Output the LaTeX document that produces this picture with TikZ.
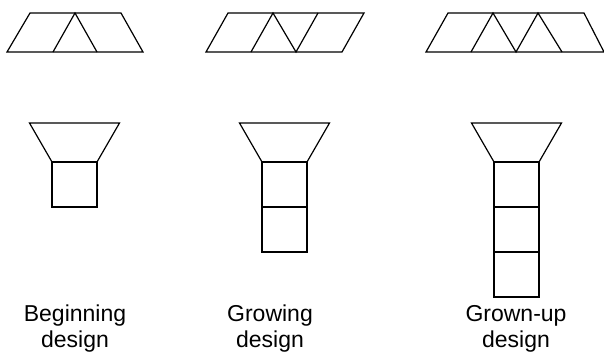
\documentclass[tikz,border=0pt]{standalone}
\usepackage{fontspec}
\newfontfamily\designfont{Liberation Sans}
\tikzset{
  edge/.style={line width=1.2pt, line join=miter},
  caption/.style={font=\designfont\fontsize{23}{26}\selectfont, align=center, anchor=base, inner sep=0pt}
}
\begin{document}
\begin{tikzpicture}[x=1pt, y=-1pt]
    \useasboundingbox (0,0) rectangle (604,354);
    % row of strips
    \draw[edge] (7,52) -- (143,52) -- (121,13) -- (30,13) -- cycle;
    \draw[edge] (53,52) -- (75,13) -- (97,52);
    \draw[edge] (206,52) -- (342,52) -- (364,13) -- (228,13) -- cycle;
    \draw[edge] (251,52) -- (273,13) -- (296,52) -- (318,13);
    \draw[edge] (426,52) -- (604,52) -- (584,13) -- (448,13) -- cycle;
    \draw[edge] (471,52) -- (493,13) -- (516,52) -- (538,13) -- (562,52);
    % funnels with stacked squares
    \foreach \cx/\n in {74.5/1, 284.5/2, 516.5/3} {
        \draw[edge] (\cx-22.5,162) -- (\cx-45,123) -- (\cx+45,123) -- (\cx+22.5,162) -- cycle;
        \foreach \k in {1,...,\n}
            \draw[edge] (\cx-22.5,117+45*\k) rectangle (\cx+22.5,162+45*\k);
    }
    \node[caption] (beginning) at (75,347) {Beginning\\design};
    \node[caption] (growing) at (270,347) {Growing\\design};
    \node[caption] (grownup) at (516,347) {Grown-up\\design};
\end{tikzpicture}
\end{document}
